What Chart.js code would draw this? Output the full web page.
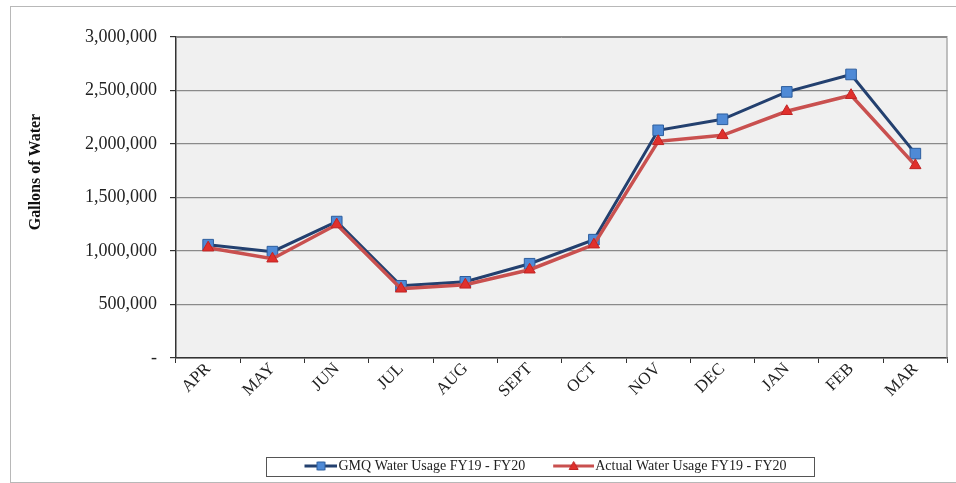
<!DOCTYPE html>
<html>
<head>
<meta charset="utf-8">
<script src="https://cdn.jsdelivr.net/npm/chart.js@4/dist/chart.umd.min.js"></script>
<style>
  html, body { margin: 0; padding: 0; background: #fff; }
  #wrap { position: relative; width: 956px; height: 483px; }
  #frame { position: absolute; left: 10px; top: 6px; width: 960px; height: 475px; border: 1px solid #b8b8b8; }
  canvas { position: absolute; left: 0; top: 0; }
</style>
</head>
<body>
<div id="wrap">
  <div id="frame"></div>
  <canvas id="usageChart" width="956" height="483"></canvas>
</div>
<script>
// monthly usage, fiscal year Apr-Mar
const months = ['APR', 'MAY', 'JUN', 'JUL', 'AUG', 'SEPT', 'OCT', 'NOV', 'DEC', 'JAN', 'FEB', 'MAR'];
const gmqUsage = [1059000, 994000, 1275000, 675000, 712000, 881000, 1106000, 2128000, 2231000, 2487000, 2650000, 1910000];
const actualUsage = [1031000, 928000, 1247000, 647000, 684000, 825000, 1059000, 2025000, 2081000, 2306000, 2456000, 1800000];
const yTicks = [0, 500000, 1000000, 1500000, 2000000, 2500000, 3000000];
const yTitle = 'Gallons of Water';

const serif = 'Liberation Serif, Times New Roman, serif';

// legend swatch: line + marker on the right part of a 72px image,
// drawn centred on a 60px legend box so the text follows right after it
function swatch(lineColor, fill, stroke, shape, lineStart) {
  const c = document.createElement('canvas');
  c.width = 72; c.height = 12;
  const g = c.getContext('2d');
  g.strokeStyle = lineColor; g.lineWidth = 3;
  g.beginPath(); g.moveTo(lineStart, 6); g.lineTo(72, 6); g.stroke();
  const mx = (lineStart + 72) / 2;
  g.fillStyle = fill; g.strokeStyle = stroke; g.lineWidth = 1;
  g.beginPath();
  if (shape === 'rect') {
    g.rect(mx - 4, 2, 8, 8);
  } else {
    g.moveTo(mx, 1.5); g.lineTo(mx + 4.5, 9.5); g.lineTo(mx - 4.5, 9.5); g.closePath();
  }
  g.fill(); g.stroke();
  return c;
}

const plotBg = {
  id: 'plotBg',
  afterLayout(chart) {
    // legend sits a little right of centre
    const lg = chart.legend;
    const d = 529 - (lg.left + lg.right) / 2;
    lg.left += d;
    lg.right += d;
  },
  beforeDraw(chart) {
    const { ctx, chartArea: a } = chart;
    ctx.save();
    ctx.fillStyle = '#f0f0f0';
    ctx.fillRect(a.left, a.top, a.right - a.left, a.bottom - a.top);
    ctx.restore();
  },
  afterDraw(chart) {
    const { ctx, chartArea: a } = chart;
    ctx.save();
    // plot frame, top and right sides
    ctx.strokeStyle = '#8a8a8a';
    ctx.lineWidth = 1;
    ctx.beginPath();
    ctx.moveTo(a.left, a.top + 0.5); ctx.lineTo(a.right - 0.5, a.top + 0.5); ctx.lineTo(a.right - 0.5, a.bottom);
    ctx.stroke();

    // y axis title, placed a bit above the middle of the plot
    ctx.translate(36, 172);
    ctx.rotate(-Math.PI / 2);
    ctx.font = 'bold 16px ' + serif;
    ctx.fillStyle = '#111';
    ctx.textAlign = 'center';
    ctx.textBaseline = 'middle';
    ctx.fillText(yTitle, 0, 0);
    ctx.setTransform(1, 0, 0, 1, 0, 0);

    // box round the legend
    const boxes = chart.legend.legendHitBoxes;
    if (boxes && boxes.length) {
      const l = boxes[0].left - 5;
      const r = Math.max(...boxes.map(b => b.left + b.width)) + 28;
      const t = boxes[0].top - 2;
      const h = 19;
      ctx.strokeStyle = '#555';
      ctx.strokeRect(Math.round(l) + 0.5, Math.round(t) + 0.5, Math.round(r - l), h);
    }
    ctx.restore();
  }
};

new Chart(document.getElementById('usageChart'), {
  type: 'line',
  data: {
    labels: months,
    datasets: [
      {
        label: 'GMQ Water Usage FY19 - FY20',
        data: gmqUsage,
        borderColor: '#23406f',
        borderWidth: 3,
        pointStyle: 'rect',
        pointRadius: 7.5,
        pointBackgroundColor: '#4f8ad6',
        pointBorderColor: '#2d5e9e',
        pointBorderWidth: 1,
        tension: 0,
        order: 1
      },
      {
        label: 'Actual Water Usage FY19 - FY20',
        data: actualUsage,
        borderColor: '#c9504f',
        borderWidth: 3.5,
        pointStyle: 'triangle',
        pointRadius: 6.5,
        pointBackgroundColor: '#e0302c',
        pointBorderColor: '#c02424',
        pointBorderWidth: 1,
        tension: 0,
        order: 0
      }
    ]
  },
  options: {
    responsive: false,
    animation: false,
    layout: { padding: { left: 29, right: 6, top: 37, bottom: 0 } },
    plugins: {
      tooltip: { enabled: false },
      legend: {
        position: 'bottom',
        labels: {
          font: { family: serif, size: 14 },
          color: '#222',
          usePointStyle: true,
          pointStyleWidth: 60,
          padding: 3,
          sort: (a, b) => a.datasetIndex - b.datasetIndex,
          generateLabels(chart) {
            const sw = [
              swatch('#23406f', '#4f8ad6', '#2d5e9e', 'rect', 39),
              swatch('#c9504f', '#e0302c', '#c02424', 'tri', 31)
            ];
            return chart.data.datasets.map((ds, i) => ({
              text: ds.label,
              pointStyle: sw[i],
              fillStyle: 'transparent',
              strokeStyle: 'transparent',
              lineWidth: 0,
              fontColor: '#222',
              datasetIndex: i
            }));
          }
        }
      }
    },
    scales: {
      x: {
        offset: true,
        grid: {
          offset: true,
          drawOnChartArea: false,
          drawTicks: true,
          tickLength: 5,
          color: '#333'
        },
        border: { color: '#333', width: 1.5 },
        ticks: {
          font: { family: serif, size: 17 },
          color: '#222',
          minRotation: 45,
          maxRotation: 45,
          padding: -4
        },
        afterFit(scale) {
          scale.height = 98;
          scale.paddingRight = 0;
        }
      },
      y: {
        min: 0,
        max: 3000000,
        afterBuildTicks(scale) { scale.ticks = yTicks.map(v => ({ value: v })); },
        grid: {
          color: '#8a8a8a',
          lineWidth: 1.2,
          tickLength: 6,
          tickColor: '#333'
        },
        border: { color: '#333', width: 1.5 },
        ticks: {
          font: { family: serif, size: 18 },
          color: '#222',
          padding: 13,
          callback: v => v === 0 ? '-' : v.toLocaleString('en-US')
        },
        afterFit(scale) { scale.width = 147; }
      }
    }
  },
  plugins: [plotBg]
});
</script>
</body>
</html>
